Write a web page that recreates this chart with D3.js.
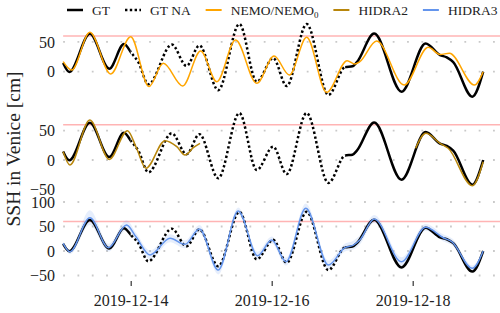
<!DOCTYPE html>
<html>
<head>
<meta charset="utf-8">
<script src="https://cdn.jsdelivr.net/npm/d3@7"></script>
<style>
  body { margin: 0; background: #fff; }
  svg { display: block; }
  svg text { font-family: 'Liberation Serif', 'DejaVu Serif', serif; }
</style>
</head>
<body>
<script>

// hours after 2019-12-13 00:00 UTC and sea level in cm
var gtHours = [1, 3.1, 10.1, 16.7, 21.7, 24.3, 26.6, 30, 38, 43, 47.4, 53.8, 61, 66.9, 72.5, 77.1, 83.9, 91.3, 97, 99.5, 101, 106.9, 116.2, 124.4, 129.3, 131.6, 133.8, 140.3, 144];
var gtValues = [14.5, -0.5, 63.5, 5, 46.5, 31, 16, -21, 45.5, 9.7, 44, -31, 80, -17, 22.8, -24, 80, -39, 7.7, 9, 16, 64, -33.5, 47.5, 28, 24, 16, -42, 0];

// part of the ground truth hidden from the models (hours)
var naStart = 24, naEnd = 97;

var nemoHours = [1, 3.9, 10.1, 17.2, 24, 30.2, 35.1, 41.7, 47.8, 53.3, 59.7, 66.9, 72.8, 78, 83.9, 90.7, 97.7, 100.3, 102, 107.7, 117.1, 125.3, 129.3, 132.5, 141, 144];
var nemoValues = [16.8, 2.8, 66, -3.9, 58.7, -25, 14, -24, 34.7, -16.8, 53, -19.5, 26.3, -5.5, 57.7, -34.6, 18.5, 13, 16.8, 51.5, -22.3, 41, 29, 30.8, -22.3, 0];

// HIDRA2 comes in two pieces
var hidra2aHours = [1, 3.3, 10.1, 16.7, 22.9, 26, 29.2, 35.7, 39.7, 42.5, 45.3, 47.6];
var hidra2aValues = [14, -8.5, 68, 1, 50, 20, -14, 33, 22.7, 8.5, 21, 28.4];
var hidra2bHours = [121, 124.5, 129.3, 132.1, 140.3, 144];
var hidra2bValues = [20, 45.4, 28.4, 20, -43.8, -3];

var hidra3Hours = [1, 3.3, 10.1, 16.4, 22.6, 25.8, 30.6, 37.4, 42.5, 47.4, 53.8, 60.6, 67.2, 72, 76.9, 83.6, 91.3, 96.9, 99.8, 102, 106.9, 116.2, 124.4, 130.4, 133.3, 140.3, 144];
var hidra3Values = [15.6, -1.4, 68, 6.8, 53, 29, -8, 26, 13.6, 45, -38.8, 81.6, -9.5, 22.4, -21.8, 87, -28.6, 6.8, 12, 22.4, 65.3, -21.8, 48.3, 27, 19, -35.4, 0];
// half width of the uncertainty band around HIDRA3
var hidra3Spread = [4, 5, 15, 8, 10, 8, 9, 8, 8, 8, 9, 7, 8, 7, 8, 10, 9, 8, 9, 9, 8, 9, 7, 7, 7, 6, 3];

var threshold = 60;

var panelTicks = [[0, 50], [-50, 0, 50], [-50, 0, 50, 100]];
var panelGrid = [[0, 50], [0, 50], [-50, 0, 50, 100]];
var dateTicks = ["2019-12-14", "2019-12-16", "2019-12-18"];

var legendLabels = ["GT", "GT NA", "NEMO/NEMO", "HIDRA2", "HIDRA3"];

var colors = { gt: "#000", nemo: "#FFA500", hidra2: "#B8860B", hidra3: "#6495ED", thr: "#FFB4B4" };

var width = 500, height = 313;
var t0 = Date.UTC(2019, 11, 13);

function toDate(h) { return new Date(t0 + h * 3600e3); }
function pairs(hours, values) {
  return hours.map(function(h, i) { return { t: toDate(h), v: values[i] }; });
}

var svg = d3.select("body").append("svg")
  .attr("width", width)
  .attr("height", height);

// time axis shared by the three panels
var x = d3.scaleUtc()
  .domain([toDate(0), toDate(150)])
  .range([60.2, 60.2 + 150 * 70.5 / 24]);

var gridLeft = x(toDate(1)), gridRight = 500;

// each panel has its own vertical scale (value 0 and 50 positions)
var panels = [
  { y: d3.scaleLinear().domain([0, 50]).range([71.7, 41.9]) },
  { y: d3.scaleLinear().domain([0, 50]).range([160, 130.65]) },
  { y: d3.scaleLinear().domain([0, 50]).range([251, 226.5]) }
];

// clip regions for the solid / dotted parts of the ground truth
var defs = svg.append("defs");
defs.append("clipPath").attr("id", "known")
  .selectAll("rect")
  .data([[0, x(toDate(naStart))], [x(toDate(naEnd)), width]])
  .enter().append("rect")
  .attr("x", function(d) { return d[0]; })
  .attr("width", function(d) { return d[1] - d[0]; })
  .attr("y", 0).attr("height", height);
defs.append("clipPath").attr("id", "hidden")
  .append("rect")
  .attr("x", x(toDate(naStart)))
  .attr("width", x(toDate(naEnd)) - x(toDate(naStart)))
  .attr("y", 0).attr("height", height);

var gt = pairs(gtHours, gtValues);

panels.forEach(function(p, i) {
  var g = svg.append("g").attr("class", "panel");
  var y = p.y;

  // dotted grid lines
  g.selectAll(".grid")
    .data(panelGrid[i])
    .enter().append("line")
    .attr("class", "grid")
    .attr("x1", gridLeft).attr("x2", gridRight)
    .attr("y1", function(d) { return y(d); })
    .attr("y2", function(d) { return y(d); })
    .style("stroke", "#c9c9c9")
    .style("stroke-width", 1.8)
    .style("stroke-dasharray", "1.8,12.53");

  // tick labels
  var yAxis = d3.axisLeft(y).tickValues(panelTicks[i]).tickSize(0).tickPadding(3);
  var ga = g.append("g").attr("transform", "translate(58,0)").call(yAxis);
  ga.attr("font-family", null).attr("font-size", null);
  ga.select(".domain").remove();
  ga.selectAll("text")
    .style("font-size", "16px")
    .style("fill", "#222");

  // flood threshold
  g.append("line")
    .attr("x1", gridLeft).attr("x2", gridRight)
    .attr("y1", y(threshold)).attr("y2", y(threshold))
    .style("stroke", colors.thr)
    .style("stroke-width", 1.5);

  var line = d3.line()
    .x(function(d) { return x(d.t); })
    .y(function(d) { return y(d.v); })
    .curve(d3.curveMonotoneX);

  if (i == 2) {
    // uncertainty band of HIDRA3
    var band = hidra3Hours.map(function(h, k) {
      return { t: toDate(h), lo: hidra3Values[k] - hidra3Spread[k], hi: hidra3Values[k] + hidra3Spread[k] };
    });
    g.append("path")
      .datum(band)
      .attr("d", d3.area()
        .x(function(d) { return x(d.t); })
        .y0(function(d) { return y(d.lo); })
        .y1(function(d) { return y(d.hi); })
        .curve(d3.curveMonotoneX))
      .style("fill", colors.hidra3)
      .style("fill-opacity", 0.16);
  }

  // ground truth, solid where known and dotted where hidden
  g.append("path")
    .datum(gt)
    .attr("d", line)
    .attr("clip-path", "url(#known)")
    .style("fill", "none")
    .style("stroke", colors.gt)
    .style("stroke-width", 2.5);
  g.append("path")
    .datum(gt)
    .attr("d", line)
    .attr("clip-path", "url(#hidden)")
    .style("fill", "none")
    .style("stroke", colors.gt)
    .style("stroke-width", 2.5)
    .style("stroke-dasharray", "2.4,2.4");

  var series;
  if (i == 0) series = [[pairs(nemoHours, nemoValues), colors.nemo]];
  if (i == 1) series = [[pairs(hidra2aHours, hidra2aValues), colors.hidra2], [pairs(hidra2bHours, hidra2bValues), colors.hidra2]];
  if (i == 2) series = [[pairs(hidra3Hours, hidra3Values), colors.hidra3]];

  series.forEach(function(s) {
    g.append("path")
      .datum(s[0])
      .attr("d", line)
      .style("fill", "none")
      .style("stroke", s[1])
      .style("stroke-width", 1.5);
  });
});

// date axis under the last panel
var xAxis = d3.axisBottom(x)
  .tickValues(dateTicks.map(function(d) { return new Date(d + "T00:00:00Z"); }))
  .tickFormat(d3.utcFormat("%Y-%m-%d"))
  .tickSize(5)
  .tickPadding(9);
var gx = svg.append("g").attr("transform", "translate(0,281)").call(xAxis);
gx.attr("font-family", null).attr("font-size", null);
gx.select(".domain").remove();
gx.selectAll("line").style("stroke", "#333").style("stroke-width", 1.2);
gx.selectAll("text")
  .style("font-size", "16px")
  .style("fill", "#222");

// y axis title
svg.append("text")
  .attr("transform", "translate(20,149) rotate(-90)")
  .attr("text-anchor", "middle")
  .style("font-size", "19.5px")
  .style("fill", "#222")
  .text("SSH in Venice [cm]");

// legend
var legendStyles = [
  { color: colors.gt, width: 2.5, dash: null },
  { color: colors.gt, width: 2.5, dash: "2.4,2.4" },
  { color: colors.nemo, width: 2, dash: null },
  { color: colors.hidra2, width: 2, dash: null },
  { color: colors.hidra3, width: 2, dash: null }
];
var lx = 67;
legendLabels.forEach(function(label, i) {
  var st = legendStyles[i];
  var item = svg.append("g");
  item.append("line")
    .attr("x1", lx).attr("x2", lx + 16)
    .attr("y1", 10).attr("y2", 10)
    .style("stroke", st.color)
    .style("stroke-width", st.width)
    .style("stroke-dasharray", st.dash);
  var txt = item.append("text")
    .attr("x", lx + 25)
    .attr("y", 14.5)
    .style("font-size", "13.5px")
    .style("fill", "#222")
    .text(label);
  if (i == 2) {
    txt.append("tspan")
      .attr("dy", 3)
      .style("font-size", "9px")
      .text("0");
  }
  lx = lx + 25 + txt.node().getComputedTextLength() + 15;
});

</script>
</body>
</html>
